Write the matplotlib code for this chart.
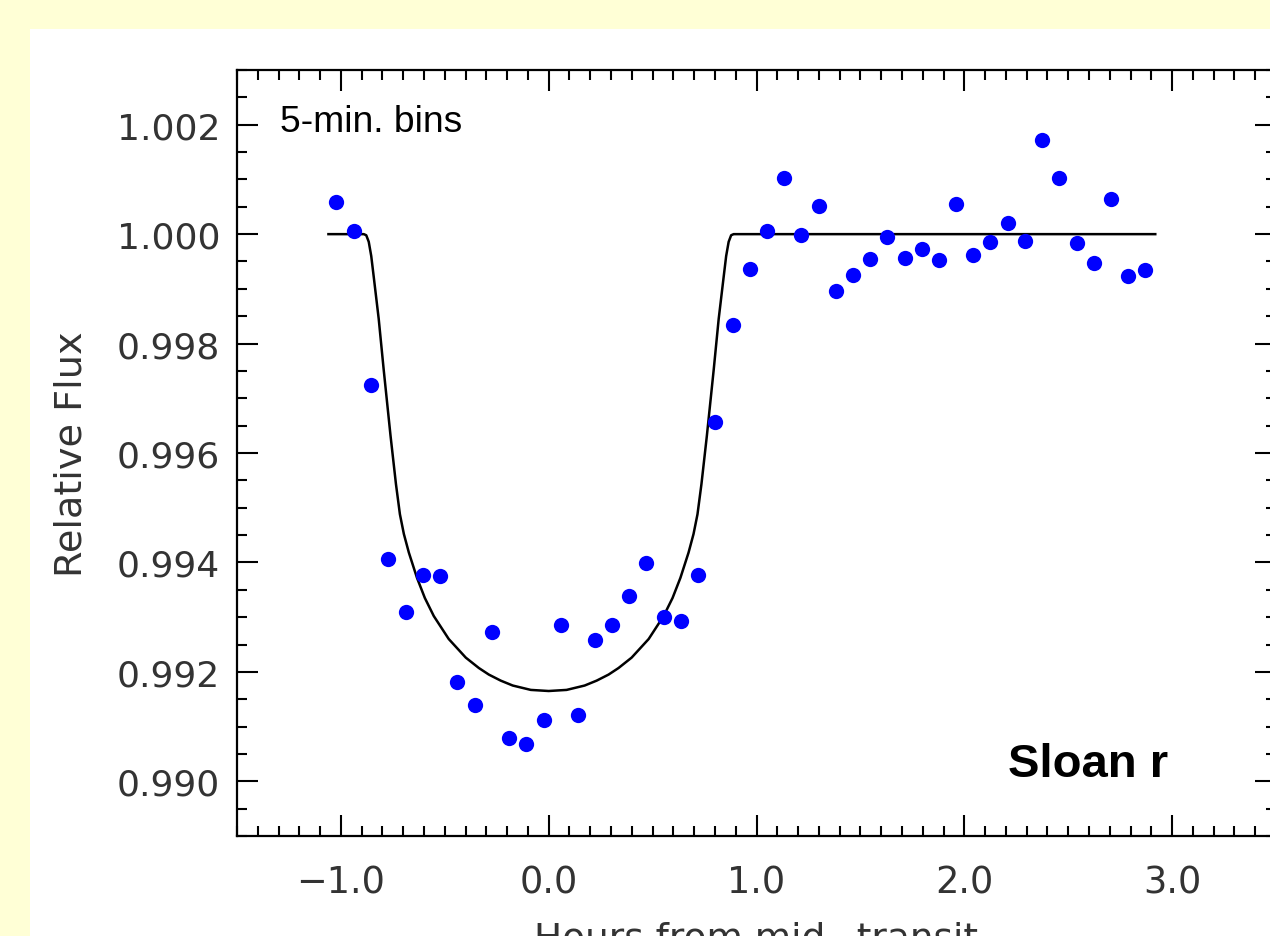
import matplotlib
matplotlib.use("Agg")
import matplotlib.pyplot as plt
from matplotlib.ticker import MultipleLocator, FuncFormatter
from matplotlib.patches import Rectangle

# ---- data ----
hours = [-1.025, -0.939, -0.853, -0.771, -0.689, -0.603, -0.521, -0.439,
         -0.357, -0.271, -0.189, -0.107, -0.025, 0.061, 0.143, 0.224,
         0.306, 0.388, 0.470, 0.556, 0.638, 0.719, 0.801, 0.888,
         0.969, 1.051, 1.133, 1.215, 1.301, 1.383, 1.465, 1.547,
         1.628, 1.714, 1.796, 1.878, 1.960, 2.042, 2.124, 2.210,
         2.291, 2.373, 2.455, 2.541, 2.623, 2.704, 2.786, 2.868]
flux = [1.00059, 1.00006, 0.99724, 0.99406, 0.99309, 0.99377, 0.99375, 0.99181,
        0.99139, 0.99273, 0.99079, 0.99068, 0.99112, 0.99286, 0.99121, 0.99258,
        0.99286, 0.99339, 0.99399, 0.99301, 0.99293, 0.99377, 0.99656, 0.99834,
        0.99936, 1.00006, 1.00103, 0.99999, 1.00051, 0.99896, 0.99926, 0.99954,
        0.99995, 0.99957, 0.99972, 0.99953, 1.00056, 0.99962, 0.99985, 1.00020,
        0.99988, 1.00172, 1.00103, 0.99984, 0.99947, 1.00064, 0.99924, 0.99935]

model_hours = [-1.060, -0.890, -0.878, -0.866, -0.854, -0.842, -0.818, -0.794,
               -0.761, -0.735, -0.716, -0.697, -0.673, -0.634, -0.596, -0.553,
               -0.481, -0.399, -0.336, -0.288, -0.231, -0.173, -0.086, 0.000,
               0.086, 0.173, 0.231, 0.288, 0.336, 0.399, 0.481, 0.553,
               0.596, 0.634, 0.673, 0.697, 0.716, 0.735, 0.761, 0.794,
               0.818, 0.842, 0.854, 0.866, 0.878, 0.890, 2.919]
model_flux = [1.00000, 1.00000, 0.99998, 0.99986, 0.99960, 0.99922, 0.99845, 0.99752,
              0.99631, 0.99543, 0.99488, 0.99452, 0.99418, 0.99372, 0.99335, 0.99302,
              0.99260, 0.99226, 0.99207, 0.99195, 0.99184, 0.99175, 0.99167, 0.99165,
              0.99167, 0.99175, 0.99184, 0.99195, 0.99207, 0.99226, 0.99260, 0.99302,
              0.99335, 0.99372, 0.99418, 0.99452, 0.99488, 0.99543, 0.99631, 0.99752,
              0.99845, 0.99922, 0.99960, 0.99986, 0.99998, 1.00000, 1.00000]

x_major = 1.0
y_major = 0.002

# ---- figure ----
W, H = 1270, 937
fig = plt.figure(figsize=(W / 100, H / 100), dpi=100)
fig.patch.set_facecolor("#FFFFD6")
bg = fig.add_axes([30 / W, 0, 1 - 30 / W, 1 - 30 / H], zorder=-10)
bg.set_facecolor("white")
bg.set_axis_off()
bg.add_patch(Rectangle((0, 0), 1, 1, transform=bg.transAxes,
                       facecolor="white", edgecolor="none"))

ax = fig.add_axes([237 / W, (H - 837) / H, 1039 / W, 766 / H], zorder=1)
ax.set_facecolor("white")

ax.plot(model_hours, model_flux, color="black", lw=1.8, zorder=2,
        solid_joinstyle="round")
ax.plot(hours, flux, "o", color="#0000FF", ms=11, mec="none", zorder=3)

ax.set_xlim(-1.5, 3.5)
ax.set_ylim(0.989, 1.003)

ax.xaxis.set_major_locator(MultipleLocator(x_major))
ax.xaxis.set_minor_locator(MultipleLocator(0.1))
ax.yaxis.set_major_locator(MultipleLocator(y_major))
ax.yaxis.set_minor_locator(MultipleLocator(0.0005))
ax.xaxis.set_major_formatter(FuncFormatter(lambda v, p: ("%.1f" % v).replace("-", "\u2212")))
ax.yaxis.set_major_formatter(FuncFormatter(lambda v, p: "%.3f" % v))

tick_color = "#333333"
ax.tick_params(which="both", direction="in", top=True, right=True,
               width=1.5, color="black")
ax.tick_params(which="major", length=15)
ax.tick_params(which="minor", length=7.5)
ax.tick_params(axis="x", which="major", pad=20, labelsize=26.5, labelcolor=tick_color)
ax.tick_params(axis="y", which="major", pad=12, labelsize=26, labelcolor=tick_color)
for s in ax.spines.values():
    s.set_linewidth(1.6)
    s.set_color("black")

ax.set_ylabel("Relative Flux", fontsize=27.5, color=tick_color, labelpad=20)
ax.set_xlabel("Hours from mid\u2212transit", fontsize=27, color=tick_color, labelpad=14)

ax.text(0.0414, 0.9208, "5-min. bins", transform=ax.transAxes,
        fontsize=26.8, family="Liberation Sans", color="black", va="baseline", ha="left")
ax.text(0.742, 0.0779, "Sloan r", transform=ax.transAxes,
        fontsize=34, family="Liberation Sans", fontweight="bold", color="black",
        va="baseline", ha="left")

fig.savefig("out.png", dpi=100, facecolor=fig.get_facecolor())
